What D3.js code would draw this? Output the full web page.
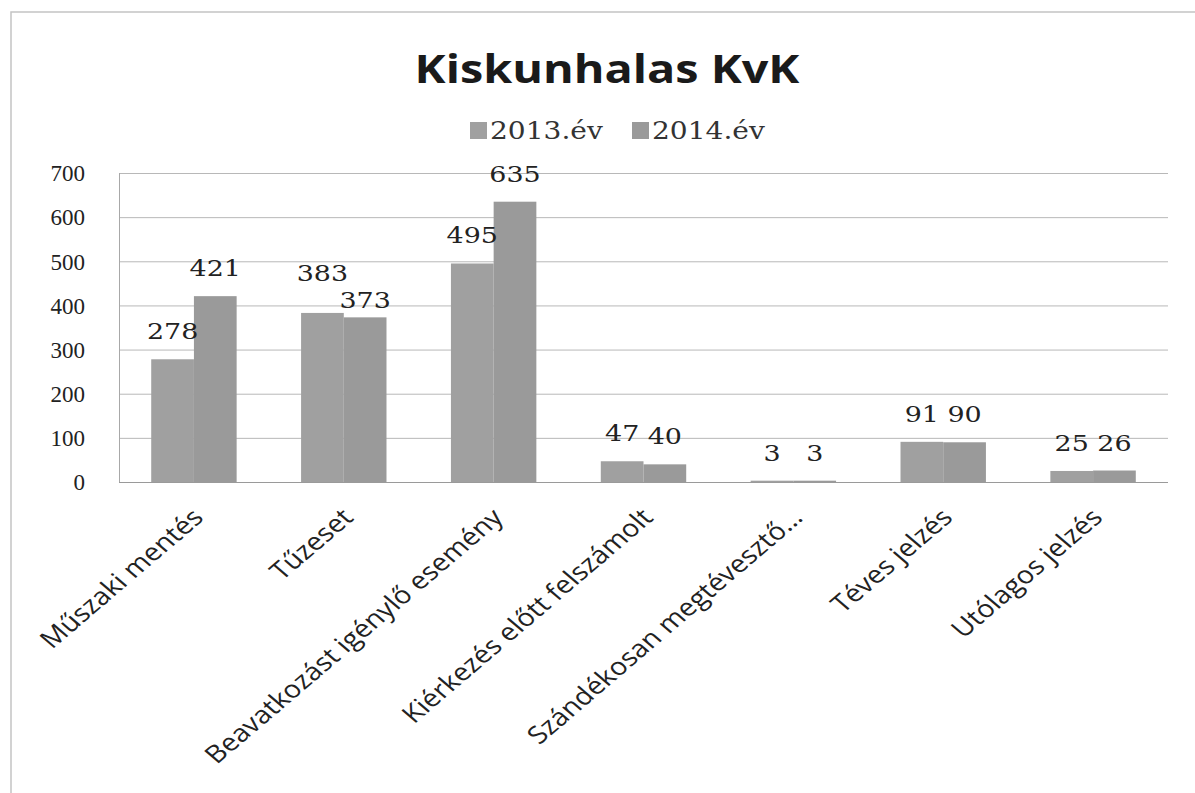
<!DOCTYPE html>
<html>
<head>
<meta charset="utf-8">
<script src="https://cdn.jsdelivr.net/npm/d3@7"></script>
<style>
    body { margin: 0; background: #fff; }
    svg { display: block; }
</style>
</head>
<body>
<div id="chart"></div>
<script>
const title = 'Kiskunhalas KvK';
const categories = [
    'Műszaki mentés',
    'Tűzeset',
    'Beavatkozást igénylő esemény',
    'Kiérkezés előtt felszámolt',
    'Szándékosan megtévesztő…',
    'Téves jelzés',
    'Utólagos jelzés'
];
const seriesNames = ['2013.év', '2014.év'];
const values2013 = [278, 383, 495, 47, 3, 91, 25];
const values2014 = [421, 373, 635, 40, 3, 90, 26];
const yTicks = [0, 100, 200, 300, 400, 500, 600, 700];

const width = 1195;
const height = 793;
const plot = { left: 119, right: 1168, top: 173, bottom: 482 };
const colors = ['#a0a0a0', '#9a9a9a'];
// the scanned original is a bit stretched sideways, so text gets the same stretch
const stretch = 1.17;
// Excel pushed the two Tűzeset labels apart so they don't collide
const labelNudge = { 'Tűzeset|2013.év': -12, 'Tűzeset|2014.év': 11 };

const svg = d3.select('#chart').append('svg')
    .attr('width', width)
    .attr('height', height);

// outer chart frame (only top and left visible in the scan)
svg.append('path')
    .attr('d', `M11,${height} L11,12 L${width},12`)
    .attr('fill', 'none')
    .attr('stroke', '#c4c4c4')
    .attr('stroke-width', 1.5);

const x = d3.scaleBand()
    .domain(categories)
    .range([plot.left, plot.right])
    .paddingInner(0.43)
    .paddingOuter(0.215);

const xSub = d3.scaleBand()
    .domain(seriesNames)
    .range([0, x.bandwidth()]);

const y = d3.scaleLinear()
    .domain([0, 700])
    .range([plot.bottom, plot.top]);

// gridlines
svg.append('g')
    .selectAll('line')
    .data(yTicks)
    .enter().append('line')
    .attr('x1', plot.left)
    .attr('x2', plot.right)
    .attr('y1', d => y(d) + 0.5)
    .attr('y2', d => y(d) + 0.5)
    .attr('stroke', d => d === 0 ? '#9a9a9a' : '#b8b8b8')
    .attr('stroke-width', 1);

// left plot border
svg.append('line')
    .attr('x1', plot.left + 0.5)
    .attr('x2', plot.left + 0.5)
    .attr('y1', plot.top)
    .attr('y2', plot.bottom)
    .attr('stroke', '#a8a8a8');

// y axis labels
const yAxis = d3.axisLeft(y)
    .tickValues(yTicks)
    .tickSize(0)
    .tickPadding(34);

const yg = svg.append('g')
    .attr('transform', `translate(${plot.left},0)`)
    .call(yAxis);
yg.select('.domain').remove();
yg.selectAll('text')
    .attr('font-family', '"Liberation Serif", serif')
    .attr('font-size', 23)
    .attr('fill', '#222')
    .attr('dy', '0.34em');

// bars
const rows = categories.map((c, i) => ({
    category: c,
    values: [
        { category: c, series: seriesNames[0], value: values2013[i], color: colors[0] },
        { category: c, series: seriesNames[1], value: values2014[i], color: colors[1] }
    ]
}));

const groups = svg.append('g')
    .selectAll('g')
    .data(rows)
    .enter().append('g')
    .attr('transform', d => `translate(${x(d.category)},0)`);

groups.selectAll('rect')
    .data(d => d.values)
    .enter().append('rect')
    .attr('x', d => xSub(d.series))
    .attr('y', d => y(d.value))
    .attr('width', xSub.bandwidth())
    .attr('height', d => y(0) - y(d.value))
    .attr('fill', d => d.color);

groups.selectAll('text')
    .data(d => d.values)
    .enter().append('text')
    .attr('transform', d => {
        const nudge = labelNudge[d.category + '|' + d.series] || 0;
        return `translate(${xSub(d.series) + xSub.bandwidth() / 2},${y(d.value) - 20 + nudge}) scale(${stretch},1)`;
    })
    .attr('text-anchor', 'middle')
    .attr('font-family', '"DejaVu Serif", serif')
    .attr('font-size', 23)
    .attr('fill', '#222')
    .text(d => d.value);

// x labels, rotated
svg.append('g')
    .selectAll('text')
    .data(categories)
    .enter().append('text')
    .attr('transform', d => `translate(${x(d) + x.bandwidth() / 2 + 11},519) scale(${stretch},1) rotate(-45)`)
    .attr('text-anchor', 'end')
    .attr('font-family', '"Open Sans", sans-serif')
    .attr('font-size', 24.5)
    .attr('fill', '#222')
    .text(d => d);

// title
svg.append('text')
    .attr('transform', `translate(607,83) scale(${stretch},1)`)
    .attr('text-anchor', 'middle')
    .attr('font-family', '"Open Sans", sans-serif')
    .attr('font-weight', 'bold')
    .attr('font-size', 40)
    .attr('fill', '#1a1a1a')
    .text(title);

// legend
const legendX = [470, 632];
const legend = svg.append('g')
    .selectAll('g')
    .data(seriesNames)
    .enter().append('g')
    .attr('transform', (d, i) => `translate(${legendX[i]},122)`);

legend.append('rect')
    .attr('width', 17)
    .attr('height', 17)
    .attr('fill', (d, i) => colors[i]);

legend.append('text')
    .attr('transform', `translate(20,17) scale(${stretch},1)`)
    .attr('font-family', '"DejaVu Serif", serif')
    .attr('font-size', 24)
    .attr('fill', '#333')
    .text(d => d);
</script>
</body>
</html>
